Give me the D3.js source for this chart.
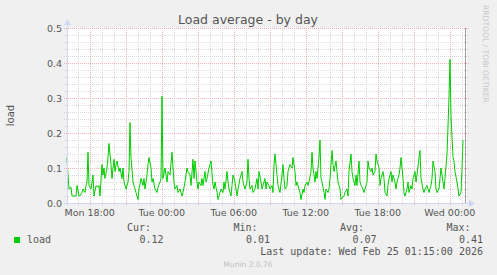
<!DOCTYPE html>
<html lang="en">
<head>
<meta charset="utf-8">
<title>Load average - by day</title>
<script src="https://cdnjs.cloudflare.com/ajax/libs/d3/7.8.5/d3.min.js"></script>
<style>
  body { margin: 0; background: #f0f0f0; }
  svg { display: block; }
  text { font-family: "DejaVu Sans", sans-serif; fill: #555; }
  .mono { font-family: "DejaVu Sans Mono", monospace; font-size: 10px; }
</style>
</head>
<body>
<script>
// 5 minute steps since the start of the graph, and the load read at each
var steps = [0,1,2,4,5,6,9,10,12,13,15,16,18,19,20,21,22,24,26,27,29,31,32,33,35,36,37,38,40,41,42,44,45,46,47,48,49,50,52,53,55,56,57,59,61,62,63,64,66,67,69,71,72,74,76,77,78,80,81,82,84,85,86,88,90,91,93,94,95,96,98,100,101,103,105,106,107,108,110,111,113,115,116,118,120,121,123,124,126,127,128,130,131,132,134,135,136,138,139,140,142,143,144,146,147,148,150,151,153,154,156,157,158,160,161,162,164,165,166,168,170,171,173,175,176,178,180,181,182,
  183,185,186,188,190,191,192,194,195,196,198,199,200,202,203,205,206,207,208,210,211,213,215,216,217,218,220,221,223,225,226,228,229,230,232,233,234,236,237,238,240,241,242,244,245,246,248,249,250,252,253,254,255,257,258,259,261,262,263,265,266,267,269,270,271,273,274,275,277,278,280,281,282,284,285,286,288,289,290,292,293,294,296,297,298,300,301,302,304,305,306,308,309,310,312,313,314,316,317,318,320,321,322,324,325,326,328,329,330,332,333,334,336,337,338,340,341,342,344,345,346,348,349,350,352,353,354,356,357,358,360,361,362,364,365,366,368,369,370,372,373,374,376,377,378,380,381,382,383,384,386,387,388,390,391,392,394,395,396];
var load = [0.13,0.08,0.04,0.045,0.02,0.02,0.02,0.05,0.02,0.02,0.03,0.04,0.03,0.05,0.06,0.145,0.05,0.04,0.08,0.02,0.05,0.045,0.05,0.02,0.11,0.08,0.10,0.07,0.10,0.13,0.17,0.11,0.07,0.10,0.125,0.09,0.11,0.12,0.09,0.10,0.07,0.10,0.06,0.04,0.06,0.09,0.23,0.13,0.06,0.05,0.03,0.01,0.04,0.07,0.05,0.07,0.04,0.08,0.11,0.13,0.10,0.06,0.07,0.04,0.03,0.045,0.06,0.07,0.305,0.07,0.10,0.06,0.09,0.08,0.145,0.10,0.06,0.04,0.05,0.03,0.04,0.02,0.03,0.06,0.10,0.09,0.08,0.05,0.125,0.07,0.12,0.06,0.04,0.06,0.05,0.07,0.05,0.09,0.06,0.07,0.10,0.11,0.12,0.05,0.04,0.06,0.03,0.01,0.03,0.04,0.03,0.06,0.04,0.09,0.06,0.04,0.02,0.05,0.08,0.06,0.02,0.04,0.07,0.09,0.06,0.04,0.06,0.125,0.07,
  0.04,0.05,0.03,0.04,0.07,0.04,0.09,0.06,0.04,0.05,0.07,0.04,0.06,0.05,0.04,0.05,0.03,0.11,0.14,0.08,0.05,0.03,0.08,0.11,0.07,0.04,0.05,0.09,0.11,0.10,0.13,0.09,0.05,0.06,0.04,0.03,0.01,0.04,0.03,0.05,0.06,0.05,0.06,0.09,0.145,0.10,0.06,0.09,0.07,0.13,0.18,0.07,0.06,0.03,0.01,0.04,0.03,0.04,0.07,0.15,0.11,0.09,0.12,0.09,0.06,0.04,0.01,0.015,0.02,0.03,0.04,0.02,0.09,0.14,0.09,0.07,0.05,0.08,0.05,0.12,0.06,0.05,0.04,0.03,0.04,0.06,0.12,0.10,0.09,0.10,0.08,0.09,0.14,0.12,0.10,0.05,0.07,0.09,0.07,0.03,0.02,0.05,0.07,0.09,0.06,0.08,0.06,0.04,0.06,0.08,0.10,0.13,0.07,0.03,0.02,0.04,0.06,0.03,0.05,0.04,0.07,0.09,0.06,0.08,0.13,0.15,0.07,0.04,0.03,0.04,0.05,0.04,0.03,0.05,0.07,0.12,0.09,0.04,0.03,0.04,0.07,0.10,0.06,0.04,0.07,0.14,0.22,0.30,0.41,0.25,0.13,0.12,0.09,0.06,0.04,0.02,0.03,0.10,0.18];

var legendLabels = ["Cur:", "Min:", "Avg:", "Max:"];
var legendValues = ["0.12", "0.01", "0.07", "0.41"];
var yTicks = [0, 0.1, 0.2, 0.3, 0.4, 0.5];

var start = new Date(2026, 1, 23, 16, 6, 30);
var end = new Date(2026, 1, 25, 1, 26, 30);
var lastUpdate = new Date(2026, 1, 25, 1, 15, 0);

var w = 497, h = 275;
var pLeft = 67, pRight = 467, pTop = 28, pBottom = 203;

var svg = d3.select("body").append("svg").attr("width", w).attr("height", h);

var x = d3.scaleTime().domain([start, end]).range([pLeft, pRight]);
var y = d3.scaleLinear().domain([0, 0.5]).range([pBottom, pTop]);

// canvas
svg.append("rect").attr("x", pLeft).attr("y", pTop)
  .attr("width", pRight - pLeft).attr("height", pBottom - pTop).attr("fill", "#fff");

// minor grid
var minorColor = "#dadada", majorColor = "#efb0b0";
var g = svg.append("g").attr("shape-rendering", "crispEdges");
x.ticks(d3.timeHour.every(1)).forEach(function(t) {
  var px = Math.round(x(t)) + 0.5;
  g.append("line").attr("x1", px).attr("x2", px).attr("y1", pTop).attr("y2", pBottom + 2)
    .attr("stroke", minorColor).attr("stroke-dasharray", "1,1");
});
d3.range(0, 0.501, 0.02).forEach(function(v) {
  var py = Math.round(y(v)) + 0.5;
  g.append("line").attr("x1", pLeft - 3).attr("x2", pRight + 2).attr("y1", py).attr("y2", py)
    .attr("stroke", minorColor).attr("stroke-dasharray", "1,1");
});
// major grid
x.ticks(d3.timeHour.every(3)).forEach(function(t) {
  var px = Math.round(x(t)) + 0.5;
  g.append("line").attr("x1", px).attr("x2", px).attr("y1", pTop).attr("y2", pBottom + 3)
    .attr("stroke", majorColor).attr("stroke-dasharray", "1,1");
});
yTicks.forEach(function(v) {
  var py = Math.round(y(v)) + 0.5;
  g.append("line").attr("x1", pLeft - 3).attr("x2", pRight + 2).attr("y1", py).attr("y2", py)
    .attr("stroke", majorColor).attr("stroke-dasharray", "1,1");
});

// y tick labels
svg.selectAll(".ylab").data(yTicks).enter().append("text")
  .attr("x", 62).attr("y", function(d) { return y(d) + 3.5; })
  .attr("text-anchor", "end").style("font-size", "9.5px")
  .text(function(d) { return d.toFixed(1); });

// x tick labels
svg.selectAll(".xlab").data(x.ticks(d3.timeHour.every(6))).enter().append("text")
  .attr("x", function(d) { return x(d); }).attr("y", 216)
  .attr("text-anchor", "middle").style("font-size", "9.5px")
  .text(d3.timeFormat("%a %H:%M"));

// last update rule
var lx = Math.round(x(lastUpdate)) + 0.5;
g.append("line").attr("x1", lx).attr("x2", lx).attr("y1", pTop).attr("y2", pBottom)
  .attr("stroke", "#999999");

// the load line
var data = steps.map(function(s, i) {
  return { t: new Date(start.getTime() + s * 300000), v: load[i] };
});
svg.append("path").datum(data)
  .attr("fill", "none").attr("stroke", "#00cc00").attr("stroke-width", 1)
  .attr("d", d3.line().x(function(d) { return x(d.t); }).y(function(d) { return y(d.v); }));

// axes with arrows
var axisColor = "#cfd6f8";
svg.append("line").attr("x1", pLeft + 0.5).attr("x2", pLeft + 0.5).attr("y1", pBottom + 2).attr("y2", 24)
  .attr("stroke", axisColor);
svg.append("line").attr("x1", pLeft - 3).attr("x2", 470).attr("y1", pBottom + 0.5).attr("y2", pBottom + 0.5)
  .attr("stroke", axisColor);
svg.append("path").attr("d", "M" + (pLeft - 3) + ",25 L" + (pLeft + 0.5) + ",19 L" + (pLeft + 4) + ",25 Z")
  .attr("fill", axisColor);
svg.append("path").attr("d", "M469," + (pBottom - 3) + " L475," + (pBottom + 0.5) + " L469," + (pBottom + 4) + " Z")
  .attr("fill", axisColor);

// title
svg.append("text").attr("x", 248).attr("y", 24).attr("text-anchor", "middle")
  .style("font-size", "12.5px").text("Load average - by day");

// y label
svg.append("text").attr("transform", "translate(14," + ((pTop + pBottom) / 2) + ") rotate(-90)")
  .attr("text-anchor", "middle").style("font-size", "10px").text("load");

// watermark
svg.append("text").attr("transform", "translate(483,5) rotate(90)")
  .style("font-size", "7.6px").style("fill", "#c8c8c8").text("RRDTOOL / TOBI OETIKER");

// legend
svg.append("rect").attr("x", 14).attr("y", 237).attr("width", 6).attr("height", 6).attr("fill", "#00cc00");
svg.append("text").attr("class", "mono").attr("x", 27).attr("y", 243).text("load");
var colX = [151, 257.5, 364, 470.5];
svg.selectAll(".lh").data(legendLabels).enter().append("text").attr("class", "mono")
  .attr("x", function(d, i) { return colX[i]; }).attr("y", 231).attr("text-anchor", "end")
  .text(function(d) { return d; });
svg.selectAll(".lv").data(legendValues).enter().append("text").attr("class", "mono")
  .attr("x", function(d, i) { return colX[i] + 12.5; }).attr("y", 243).attr("text-anchor", "end")
  .text(function(d) { return d; });
svg.append("text").attr("class", "mono").attr("x", 483).attr("y", 255).attr("text-anchor", "end")
  .text("Last update: Wed Feb 25 01:15:00 2026");
svg.append("text").attr("x", 248).attr("y", 267).attr("text-anchor", "middle")
  .style("font-size", "7.5px").style("fill", "#c0c0c0").text("Munin 2.0.76");
</script>
</body>
</html>
